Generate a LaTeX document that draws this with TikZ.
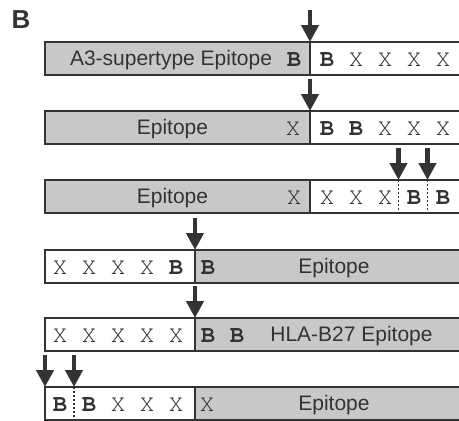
\documentclass[tikz,border=0pt]{standalone}
\usepackage{fontspec}
\setmainfont{Liberation Sans}
\newfontfamily\resfont{texgyrecursor-regular.otf}[BoldFont=texgyrecursor-bold.otf]
\definecolor{boxgray}{HTML}{C8C8C8}
\definecolor{inkgray}{HTML}{333333}
\usetikzlibrary{arrows.meta,positioning}

\begin{document}
\begin{tikzpicture}[x=1pt,y=-1pt,
  seg/.style={draw=inkgray,line width=1.6pt,minimum height=33pt,inner sep=0pt,outer sep=0pt,anchor=north west},
  epi/.style={seg,fill=boxgray},
  flank/.style={seg,fill=white},
  cut/.style={draw=inkgray,line width=4.5pt,-{Triangle[length=17pt,width=17pt]}},
  site/.style={draw=inkgray,line width=1.8pt,dash pattern=on 2pt off 2pt},
  res/.style={font=\resfont\fontsize{24}{26}\selectfont,inner sep=0pt,anchor=base,text=inkgray},
  lab/.style={font=\fontsize{21}{24}\selectfont,inner sep=0pt,anchor=base,text=inkgray}]
  \useasboundingbox (0,0) rectangle (459,421);
  \node[font=\bfseries\fontsize{26}{28}\selectfont,inner sep=0pt,anchor=base,text=inkgray] (panel) at (21,28) {B};

  % row 1: A3-supertype epitope, cut after B
  \node[epi,minimum width=265pt] (e1) at (45,42) {};
  \node[flank,minimum width=160pt] (f1) at (310,42) {};
  \node[lab] (l1) at (171,65.3) {A3-supertype Epitope};
  \node[res] (g1) at (294,66.5) {\textbf{B}};
  \foreach \c [count=\i] in {\textbf{B},X,X,X,X}
    \node[res] (r1\i) at ({298+29*\i},66.5) {\c};
  \coordinate[above=32pt of f1.north west] (t1);
  \draw[cut] (t1) -- (f1.north west);

  % row 2
  \node[epi,minimum width=265pt] (e2) at (45,111) {};
  \node[flank,minimum width=160pt] (f2) at (310,111) {};
  \node[lab] (l2) at (172.5,134.3) {Epitope};
  \node[res] (g2) at (293,135.5) {X};
  \foreach \c [count=\i] in {\textbf{B},\textbf{B},X,X,X}
    \node[res] (r2\i) at ({298+29*\i},135.5) {\c};
  \coordinate[above=32pt of f2.north west] (t2);
  \draw[cut] (t2) -- (f2.north west);

  % row 3: two cut sites inside the flank
  \node[epi,minimum width=265pt] (e3) at (45,180) {};
  \node[flank,minimum width=160pt] (f3) at (310,180) {};
  \node[lab] (l3) at (172.5,203.3) {Epitope};
  \node[res] (g3) at (294,204.5) {X};
  \foreach \c [count=\i] in {X,X,X,\textbf{B},\textbf{B}}
    \node[res] (r3\i) at ({298+29*\i},204.5) {\c};
  \coordinate (c3a) at (398.5,180);
  \coordinate (c3b) at (427.5,180);
  \draw[site] (c3a) -- ++(0,33);
  \draw[site] (c3b) -- ++(0,33);
  \coordinate[above=32pt of c3a] (t3a);
  \coordinate[above=32pt of c3b] (t3b);
  \draw[cut] (t3a) -- (c3a);
  \draw[cut] (t3b) -- (c3b);

  % row 4: flank on the left, split at 195
  \node[flank,minimum width=150pt] (f4) at (45,250) {};
  \node[epi,minimum width=275pt] (e4) at (195,250) {};
  \foreach \c [count=\i] in {X,X,X,X,\textbf{B}}
    \node[res] (r4\i) at ({31+29*\i},274.5) {\c};
  \node[res] (g4) at (208,274.5) {\textbf{B}};
  \node[lab] (l4) at (334,273.3) {Epitope};
  \coordinate[above=32pt of e4.north west] (t4);
  \draw[cut] (t4) -- (e4.north west);

  % row 5: HLA-B27 epitope
  \node[flank,minimum width=150pt] (f5) at (45,318) {};
  \node[epi,minimum width=275pt] (e5) at (195,318) {};
  \foreach \c [count=\i] in {X,X,X,X,X}
    \node[res] (r5\i) at ({31+29*\i},342.5) {\c};
  \node[res] (g5a) at (208,342.5) {\textbf{B}};
  \node[res] (g5b) at (237,342.5) {\textbf{B}};
  \node[lab] (l5) at (351.5,341.3) {HLA-B27 Epitope};
  \coordinate[above=32pt of e5.north west] (t5);
  \draw[cut] (t5) -- (e5.north west);

  % row 6: cuts at the left end
  \node[flank,minimum width=150pt] (f6) at (45,387) {};
  \node[epi,minimum width=275pt] (e6) at (195,387) {};
  \foreach \c [count=\i] in {\textbf{B},\textbf{B},X,X,X}
    \node[res] (r6\i) at ({31+29*\i},411.5) {\c};
  \node[res] (g6) at (207,411.5) {X};
  \node[lab] (l6) at (334,410.3) {Epitope};
  \coordinate (c6) at (74,387);
  \draw[site] (c6) -- ++(0,33);
  \coordinate[above=32pt of f6.north west] (t6a);
  \coordinate[above=32pt of c6] (t6b);
  \draw[cut] (t6a) -- (f6.north west);
  \draw[cut] (t6b) -- (c6);
\end{tikzpicture}
\end{document}
